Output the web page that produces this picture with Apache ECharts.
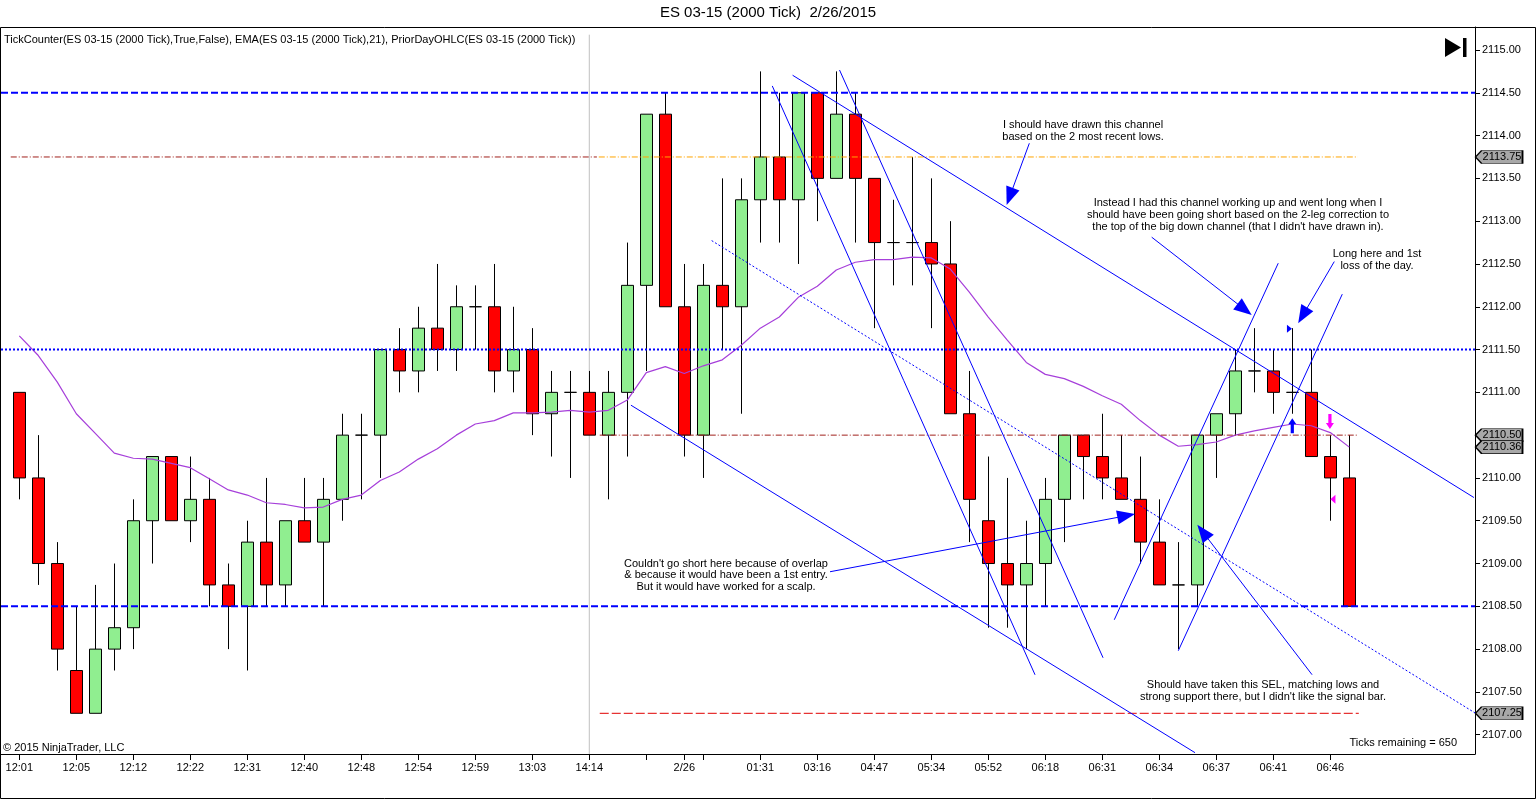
<!DOCTYPE html>
<html>
<head>
<meta charset="utf-8">
<title>ES 03-15 (2000 Tick) 2/26/2015</title>
<script src="https://cdn.jsdelivr.net/npm/echarts@6/dist/echarts.min.js"></script>
<style>
    html, body { margin: 0; padding: 0; background: #fff; }
    #chart { width: 1536px; height: 800px; }
</style>
</head>
<body>
<div id="chart"></div>
<script>
/* ===== Data ===== */
const opens  = [2111.0, 2110.0, 2109.0, 2107.75, 2107.25, 2108.0, 2108.25, 2109.5, 2110.25, 2109.5,
                2109.75, 2108.75, 2108.5, 2109.25, 2108.75, 2109.5, 2109.25, 2109.75, 2110.5, 2110.5,
                2111.5, 2111.25, 2111.75, 2111.5, 2112.0, 2112.0, 2111.25, 2111.5, 2110.75, 2111.0,
                2111.0, 2110.5, 2111.0, 2112.25, 2114.25, 2112.0, 2110.5, 2112.25, 2112.0, 2113.25,
                2113.75, 2113.25, 2114.5, 2113.5, 2114.25, 2113.5, 2112.75, 2112.75, 2112.75, 2112.5,
                2110.75, 2109.5, 2109.0, 2108.75, 2109.0, 2109.75, 2110.5, 2110.25, 2110.0, 2109.75,
                2109.25, 2108.75, 2108.75, 2110.5, 2110.75, 2111.25, 2111.25, 2111.0, 2111.0, 2110.25,
                2110.0];
const highs  = [2111.0, 2110.5, 2109.25, 2108.5, 2108.75, 2109.0, 2109.75, 2110.25, 2110.25, 2110.25,
                2110.0, 2109.0, 2109.5, 2110.0, 2109.5, 2110.0, 2110.0, 2110.75, 2110.75, 2111.5,
                2111.75, 2112.0, 2112.5, 2112.25, 2112.25, 2112.5, 2112.0, 2111.75, 2111.25, 2111.25,
                2111.25, 2111.25, 2112.75, 2114.25, 2114.5, 2112.5, 2112.5, 2113.5, 2113.5, 2114.75,
                2114.5, 2114.5, 2114.5, 2114.75, 2114.5, 2113.5, 2113.25, 2113.75, 2113.5, 2113.0,
                2111.25, 2110.25, 2110.0, 2109.5, 2110.0, 2110.5, 2110.5, 2110.75, 2110.5, 2110.25,
                2109.75, 2109.25, 2110.5, 2110.75, 2111.5, 2111.75, 2111.5, 2111.75, 2111.5, 2110.5,
                2110.5];
const lows   = [2109.75, 2108.75, 2107.75, 2107.25, 2107.25, 2107.75, 2108.0, 2109.0, 2109.5, 2109.25,
                2108.5, 2108.0, 2107.75, 2108.5, 2108.5, 2109.25, 2108.5, 2109.5, 2109.75, 2110.0,
                2111.0, 2111.0, 2111.25, 2111.25, 2111.5, 2111.0, 2111.0, 2110.5, 2110.25, 2110.0,
                2110.5, 2109.75, 2110.25, 2111.25, 2112.0, 2110.25, 2110.0, 2111.5, 2110.75, 2112.75,
                2112.75, 2112.5, 2113.0, 2113.5, 2112.75, 2111.75, 2112.25, 2112.25, 2111.75, 2110.75,
                2109.25, 2108.25, 2108.25, 2108.0, 2108.5, 2109.25, 2109.75, 2109.75, 2109.75, 2109.0,
                2108.75, 2108.0, 2108.5, 2110.0, 2110.5, 2111.0, 2110.75, 2110.75, 2110.25, 2109.5,
                2108.5];
const closes = [2110.0, 2109.0, 2108.0, 2107.25, 2108.0, 2108.25, 2109.5, 2110.25, 2109.5, 2109.75,
                2108.75, 2108.5, 2109.25, 2108.75, 2109.5, 2109.25, 2109.75, 2110.5, 2110.5, 2111.5,
                2111.25, 2111.75, 2111.5, 2112.0, 2112.0, 2111.25, 2111.5, 2110.75, 2111.0, 2111.0,
                2110.5, 2111.0, 2112.25, 2114.25, 2112.0, 2110.5, 2112.25, 2112.0, 2113.25, 2113.75,
                2113.25, 2114.5, 2113.5, 2114.25, 2113.5, 2112.75, 2112.75, 2112.75, 2112.5, 2110.75,
                2109.75, 2109.0, 2108.75, 2109.0, 2109.75, 2110.5, 2110.25, 2110.0, 2109.75, 2109.25,
                2108.75, 2108.75, 2110.5, 2110.75, 2111.25, 2111.25, 2111.0, 2111.0, 2110.25, 2110.0,
                2108.5];

// EMA(21)
const ema = [2111.66, 2111.43, 2111.12, 2110.75, 2110.52, 2110.29, 2110.23, 2110.22, 2110.17, 2110.12,
             2109.99, 2109.86, 2109.80, 2109.71, 2109.69, 2109.65, 2109.66, 2109.75, 2109.80, 2109.97,
             2110.07, 2110.22, 2110.34, 2110.50, 2110.63, 2110.67, 2110.76, 2110.76, 2110.77, 2110.79,
             2110.77, 2110.79, 2110.91, 2111.23, 2111.30, 2111.22, 2111.31, 2111.38, 2111.55, 2111.75,
             2111.88, 2112.11, 2112.24, 2112.43, 2112.52, 2112.55, 2112.55, 2112.58, 2112.57, 2112.44,
             2112.17, 2111.88, 2111.61, 2111.35, 2111.21, 2111.16, 2111.07, 2110.96, 2110.86, 2110.67,
             2110.50, 2110.37, 2110.39, 2110.42, 2110.50, 2110.55, 2110.59, 2110.63, 2110.61, 2110.53,
             2110.36];

// x axis tick labels (bar index -> text)
const labelIdx  = [0, 3, 6, 9, 12, 15, 18, 21, 24, 27, 30, 35, 39, 42, 45, 48, 51, 54, 57, 60, 63, 66, 69];
const labelText = ['12:01', '12:05', '12:12', '12:22', '12:31', '12:40', '12:48', '12:54', '12:59', '13:03',
                   '14:14', '2/26', '01:31', '03:16', '04:47', '05:34', '05:52', '06:18', '06:31', '06:34',
                   '06:37', '06:41', '06:46'];
const tickIdx   = [0, 3, 6, 9, 12, 15, 18, 21, 24, 27, 30, 33, 35, 36, 39, 42, 45, 48, 51, 54, 57, 60, 63, 66, 69];
const priceTicks = [2107.0, 2107.5, 2108.0, 2108.5, 2109.0, 2109.5, 2110.0, 2110.5, 2111.0,
                    2111.5, 2112.0, 2112.5, 2113.0, 2113.5, 2114.0, 2114.5, 2115.0];

// horizontal levels
const dashedLevels = [2114.5, 2108.5];
const dottedLevels = [2111.5];
const priorHigh = 2113.75;
const priorClose = 2110.5;
const priorLow = 2107.25;
const sessionBreak = 30;
const lastEma = 2110.36;

// hand drawn trend lines: [barFrom, priceFrom, barTo, priceTo]
const trendLines = [
    [32.19, 2110.85, 61.88, 2106.79],
    [40.70, 2114.705, 76.56, 2109.771],
    [39.63, 2114.58, 53.46, 2107.70],
    [43.17, 2114.766, 57.04, 2107.899],
    [57.63, 2108.343, 66.26, 2112.509],
    [61.00, 2107.981, 69.63, 2112.147]
];
const dottedTrend = [36.44, 2112.773, 76.62, 2107.254];

// annotation arrows: [barFrom, priceFrom, barTo, priceTo]
const arrows = [
    [53.16, 2113.910, 52.13, 2113.289],
    [59.60, 2112.813, 64.49, 2111.969],
    [69.21, 2112.528, 67.55, 2111.899],
    [42.67, 2108.904, 58.26, 2109.558],
    [68.04, 2107.701, 62.29, 2109.369]
];

// trade markers: [bar, price]
const buyMark = [67.0, 2110.609];
const flagMark = [66.85, 2111.742];
const sellMark = [68.98, 2110.659];
const exitMark = [69.14, 2109.75];

/* ===== Chart ===== */
const FONT = '"Liberation Sans", Arial, sans-serif';
const X_MIN = -0.963;
const X_MAX = 76.616;
const Y_MIN = 2106.7745;
const Y_MAX = 2115.2686;

const chart = echarts.init(document.getElementById('chart'));

const candles = opens.map((o, i) => [i, o, closes[i], lows[i], highs[i]]);
const emaData = ema.map((v, i) => [i, v]);

// a plain two point line series for every drawn segment
function segment(x0, y0, x1, y1, style, z) {
    return {
        type: 'line',
        data: [[x0, y0], [x1, y1]],
        z: z || 4,
        silent: true,
        symbol: 'none',
        color: style.color,
        lineStyle: style
    };
}

const blue = '#0000FF';
const darkRed = '#A0201C';
const dashDot = [6, 2, 1, 2];

const segments = [];
segments.push(segment(sessionBreak, Y_MAX - 0.09, sessionBreak, Y_MIN, { color: '#C0C0C0', width: 1, type: 'solid' }, 1));
dashedLevels.forEach(v => segments.push(segment(X_MIN, v, X_MAX, v, { color: blue, width: 2, type: [7, 3] })));
dottedLevels.forEach(v => segments.push(segment(X_MIN, v, X_MAX, v, { color: blue, width: 2, type: [2, 2] })));
segments.push(segment(-0.45, priorHigh, 30.4, priorHigh, { color: darkRed, width: 1, type: dashDot }));
segments.push(segment(30.5, priorHigh, 70.45, priorHigh, { color: '#FFA500', width: 1, type: dashDot }));
segments.push(segment(30.55, priorClose, 70.45, priorClose, { color: darkRed, width: 1, type: dashDot }));
segments.push(segment(30.55, priorLow, 70.5, priorLow, { color: '#E00000', width: 1, type: [9, 3] }));
trendLines.forEach(t => segments.push(segment(t[0], t[1], t[2], t[3], { color: blue, width: 1, type: 'solid' })));
segments.push(segment(dottedTrend[0], dottedTrend[1], dottedTrend[2], dottedTrend[3], { color: blue, width: 1, type: [2, 2] }));

const boxPath = 'path://M0,6 L6,0 L46,0 L46,12 L6,12 Z';
function priceBox(v, text) {
    return {
        coord: [X_MAX, v],
        symbol: boxPath,
        symbolSize: [47, 13],
        symbolOffset: [24, 0],
        itemStyle: { color: '#A8A8A8', borderColor: '#000', borderWidth: 1 },
        label: {
            show: true, position: 'inside', offset: [3, 0],
            color: '#000', fontSize: 11, fontFamily: FONT,
            formatter: text
        }
    };
}

const option = {
    animation: false,
    backgroundColor: '#fff',
    grid: { left: 1, right: 61, top: 27, bottom: 46 },
    xAxis: {
        type: 'value',
        min: X_MIN,
        max: X_MAX,
        splitLine: { show: false },
        axisLine: { onZero: false, lineStyle: { color: '#000', width: 1 } },
        axisTick: { customValues: tickIdx, length: 6, lineStyle: { color: '#000' } },
        axisLabel: {
            customValues: labelIdx,
            color: '#000', fontSize: 11, fontFamily: FONT, margin: 8,
            formatter: v => labelText[labelIdx.indexOf(Math.round(v))] || ''
        }
    },
    yAxis: {
        type: 'value',
        position: 'right',
        min: Y_MIN,
        max: Y_MAX,
        splitLine: { show: false },
        axisLine: { show: true, onZero: false, lineStyle: { color: '#000', width: 1 } },
        axisTick: { show: true, customValues: priceTicks, length: 5, lineStyle: { color: '#000' } },
        axisLabel: {
            customValues: priceTicks,
            color: '#000', fontSize: 11, fontFamily: FONT, margin: 7,
            formatter: v => v.toFixed(2)
        }
    },
    series: [
        {
            type: 'candlestick',
            data: candles,
            barWidth: 12,
            z: 2,
            itemStyle: {
                color: '#90EE90',
                color0: '#FF0000',
                borderColor: '#000',
                borderColor0: '#000',
                borderColorDoji: '#000',
                borderWidth: 1
            }
        },
        {
            type: 'line',
            name: 'EMA',
            data: emaData,
            z: 3,
            showSymbol: false,
            symbol: 'none',
            color: '#A63FDA',
            lineStyle: { color: '#A63FDA', width: 1.2 }
        },
        ...segments,
        {
            type: 'line',
            name: 'notes',
            data: [],
            z: 5,
            silent: true,
            color: blue,
            markLine: {
                silent: true,
                symbol: ['none', 'triangle'],
                symbolSize: [14, 18],
                label: { show: false },
                animation: false,
                lineStyle: { color: blue, width: 1, type: 'solid' },
                itemStyle: { color: blue },
                data: arrows.map(a => [{ coord: [a[0], a[1]] }, { coord: [a[2], a[3]] }])
            },
            markPoint: {
                silent: true,
                animation: false,
                label: { show: false },
                data: [
                    { coord: buyMark, symbol: 'path://M5,0 L10,6 L7,6 L7,15 L3,15 L3,6 L0,6 Z', symbolSize: [8, 15], itemStyle: { color: blue } },
                    { coord: flagMark, symbol: 'path://M0,0 L10,5 L0,10 Z', symbolSize: [5, 8], itemStyle: { color: blue } },
                    { coord: sellMark, symbol: 'path://M3,0 L7,0 L7,9 L10,9 L5,15 L0,9 L3,9 Z', symbolSize: [8, 15], itemStyle: { color: '#FF00FF' } },
                    { coord: exitMark, symbol: 'path://M10,0 L0,5 L10,10 Z', symbolSize: [5, 9], itemStyle: { color: '#FF00FF' } },
                    priceBox(priorHigh, '2113.75'),
                    priceBox(priorClose, '2110.50'),
                    priceBox(lastEma, '2110.36'),
                    priceBox(priorLow, '2107.25')
                ]
            }
        }
    ],
    graphic: [
        { type: 'rect', shape: { x: 0.5, y: 27.5, width: 1535, height: 771 }, style: { fill: 'none', stroke: '#000', lineWidth: 1 }, silent: true },
        { type: 'text', x: 768, y: 13, style: { text: 'ES 03-15 (2000 Tick)  2/26/2015', font: '15px ' + FONT, fill: '#000', align: 'center', verticalAlign: 'middle' } },
        { type: 'text', x: 4, y: 40, style: { text: 'TickCounter(ES 03-15 (2000 Tick),True,False), EMA(ES 03-15 (2000 Tick),21), PriorDayOHLC(ES 03-15 (2000 Tick))', font: '11px ' + FONT, fill: '#000', verticalAlign: 'middle' } },
        { type: 'polygon', shape: { points: [[1445, 38], [1461, 47.5], [1445, 57]] }, style: { fill: '#000' } },
        { type: 'rect', shape: { x: 1463, y: 38, width: 3.5, height: 19 }, style: { fill: '#000' } },
        { type: 'text', x: 1083, y: 119, style: { text: 'I should have drawn this channel\nbased on the 2 most recent lows.', font: '11px ' + FONT, lineHeight: 11.7, fill: '#000', align: 'center', verticalAlign: 'top' } },
        { type: 'text', x: 1238, y: 197, style: { text: 'Instead I had this channel working up and went long when I\nshould have been going short based on the 2-leg correction to\nthe top of the big down channel (that I didn\'t have drawn in).', font: '11px ' + FONT, lineHeight: 12, fill: '#000', align: 'center', verticalAlign: 'top' } },
        { type: 'text', x: 1377, y: 248, style: { text: 'Long here and 1st\nloss of the day.', font: '11px ' + FONT, lineHeight: 11.7, fill: '#000', align: 'center', verticalAlign: 'top' } },
        { type: 'text', x: 726, y: 558, style: { text: 'Couldn\'t go short here because of overlap\n& because it would have been a 1st entry.\nBut it would have worked for a scalp.', font: '11px ' + FONT, lineHeight: 11.5, fill: '#000', align: 'center', verticalAlign: 'top' } },
        { type: 'text', x: 1263, y: 679.5, style: { text: 'Should have taken this SEL, matching lows and\nstrong support there, but I didn\'t like the signal bar.', font: '11px ' + FONT, lineHeight: 11.4, fill: '#000', align: 'center', verticalAlign: 'top' } },
        { type: 'text', x: 1457, y: 743, style: { text: 'Ticks remaining = 650', font: '11px ' + FONT, fill: '#000', align: 'right', verticalAlign: 'middle' } },
        { type: 'text', x: 3, y: 748, style: { text: '\u00A9 2015 NinjaTrader, LLC', font: '11px ' + FONT, fill: '#000', verticalAlign: 'middle' } }
    ]
};

chart.setOption(option);
window.addEventListener('resize', () => chart.resize());
</script>
</body>
</html>
